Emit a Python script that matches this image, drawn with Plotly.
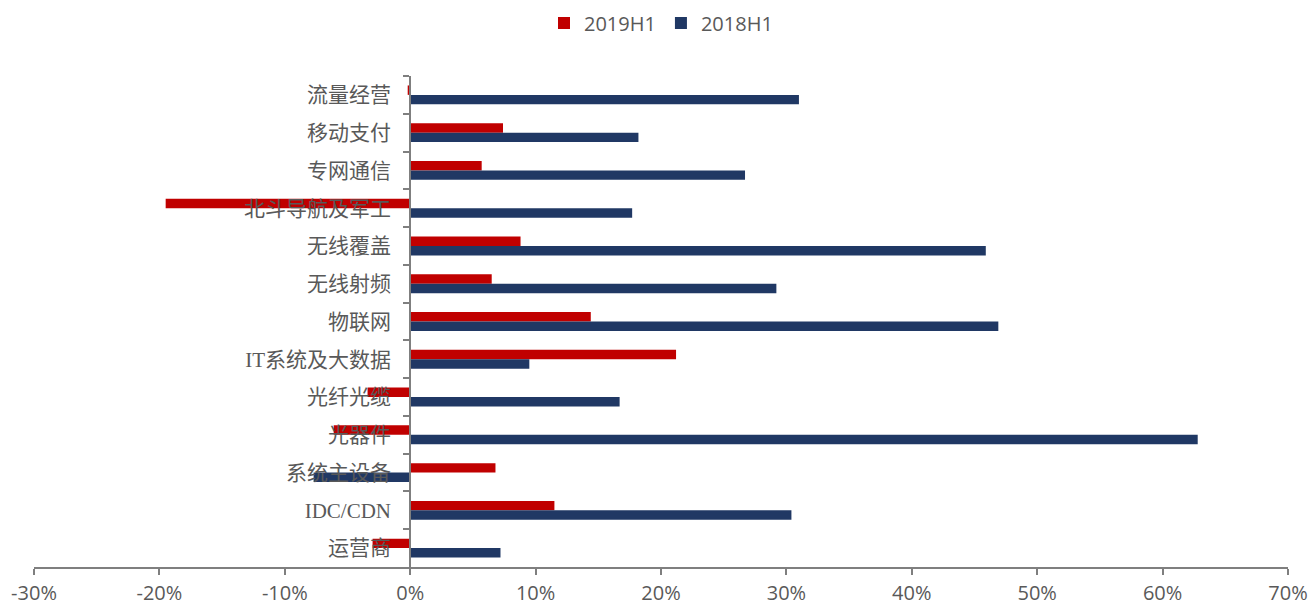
import plotly.graph_objects as go

categories = ["流量经营", "移动支付", "专网通信", "北斗导航及军工", "无线覆盖", "无线射频",
              "物联网", "IT系统及大数据", "光纤光缆", "光器件", "系统主设备", "IDC/CDN", "运营商"]
h1_2019 = [-0.2, 7.4, 5.7, -19.5, 8.8, 6.5, 14.4, 21.2, -3.4, -6.1, 6.8, 11.5, -3.0]
h1_2018 = [31.0, 18.2, 26.7, 17.7, 45.9, 29.2, 46.9, 9.5, 16.7, 62.8, -7.7, 30.4, 7.2]
x_ticks = [-30, -20, -10, 0, 10, 20, 30, 40, 50, 60, 70]
x_ticktext = [f"{v}%" for v in x_ticks]

fig = go.Figure()
fig.add_trace(go.Bar(y=categories, x=h1_2019, orientation="h", name="2019H1",
                     marker=dict(color="#C00000", line=dict(width=0))))
fig.add_trace(go.Bar(y=categories, x=h1_2018, orientation="h", name="2018H1",
                     marker=dict(color="#203864", line=dict(width=0))))

fig.update_layout(
    width=1311, height=608,
    margin=dict(l=34, r=23, t=76, b=41, autoexpand=False),
    paper_bgcolor="white", plot_bgcolor="white",
    barmode="group", bargap=0.5, bargroupgap=0,
    legend=dict(orientation="h", x=0.5, xanchor="center", y=0.93, yanchor="bottom",
                yref="container", font=dict(family="Open Sans, Noto Sans", size=20, color="#595959"),
                itemsizing="constant", traceorder="normal"),
    showlegend=True,
    xaxis=dict(range=[-30, 70], tickvals=x_ticks, ticktext=x_ticktext, automargin=False,
               showgrid=False, zeroline=False, showline=True, linecolor="#7f7f7f", linewidth=2,
               ticks="outside", ticklen=6, tickcolor="#7f7f7f", tickwidth=2, ticklabelstandoff=1,
               tickfont=dict(family="Open Sans, Noto Sans", size=20, color="#595959")),
    yaxis=dict(categoryorder="array", categoryarray=categories, autorange="reversed",
               anchor="free", position=0.3, showline=True, linecolor="#7f7f7f", linewidth=2,
               ticks="outside", ticklen=6, tickcolor="#7f7f7f", tickwidth=2, tickson="boundaries",
               showgrid=False, zeroline=False, ticklabelstandoff=14, automargin=False,
               tickfont=dict(family="Liberation Serif, Noto Sans CJK SC", size=21, color="#595959")),
)

fig.write_html("out.html")
